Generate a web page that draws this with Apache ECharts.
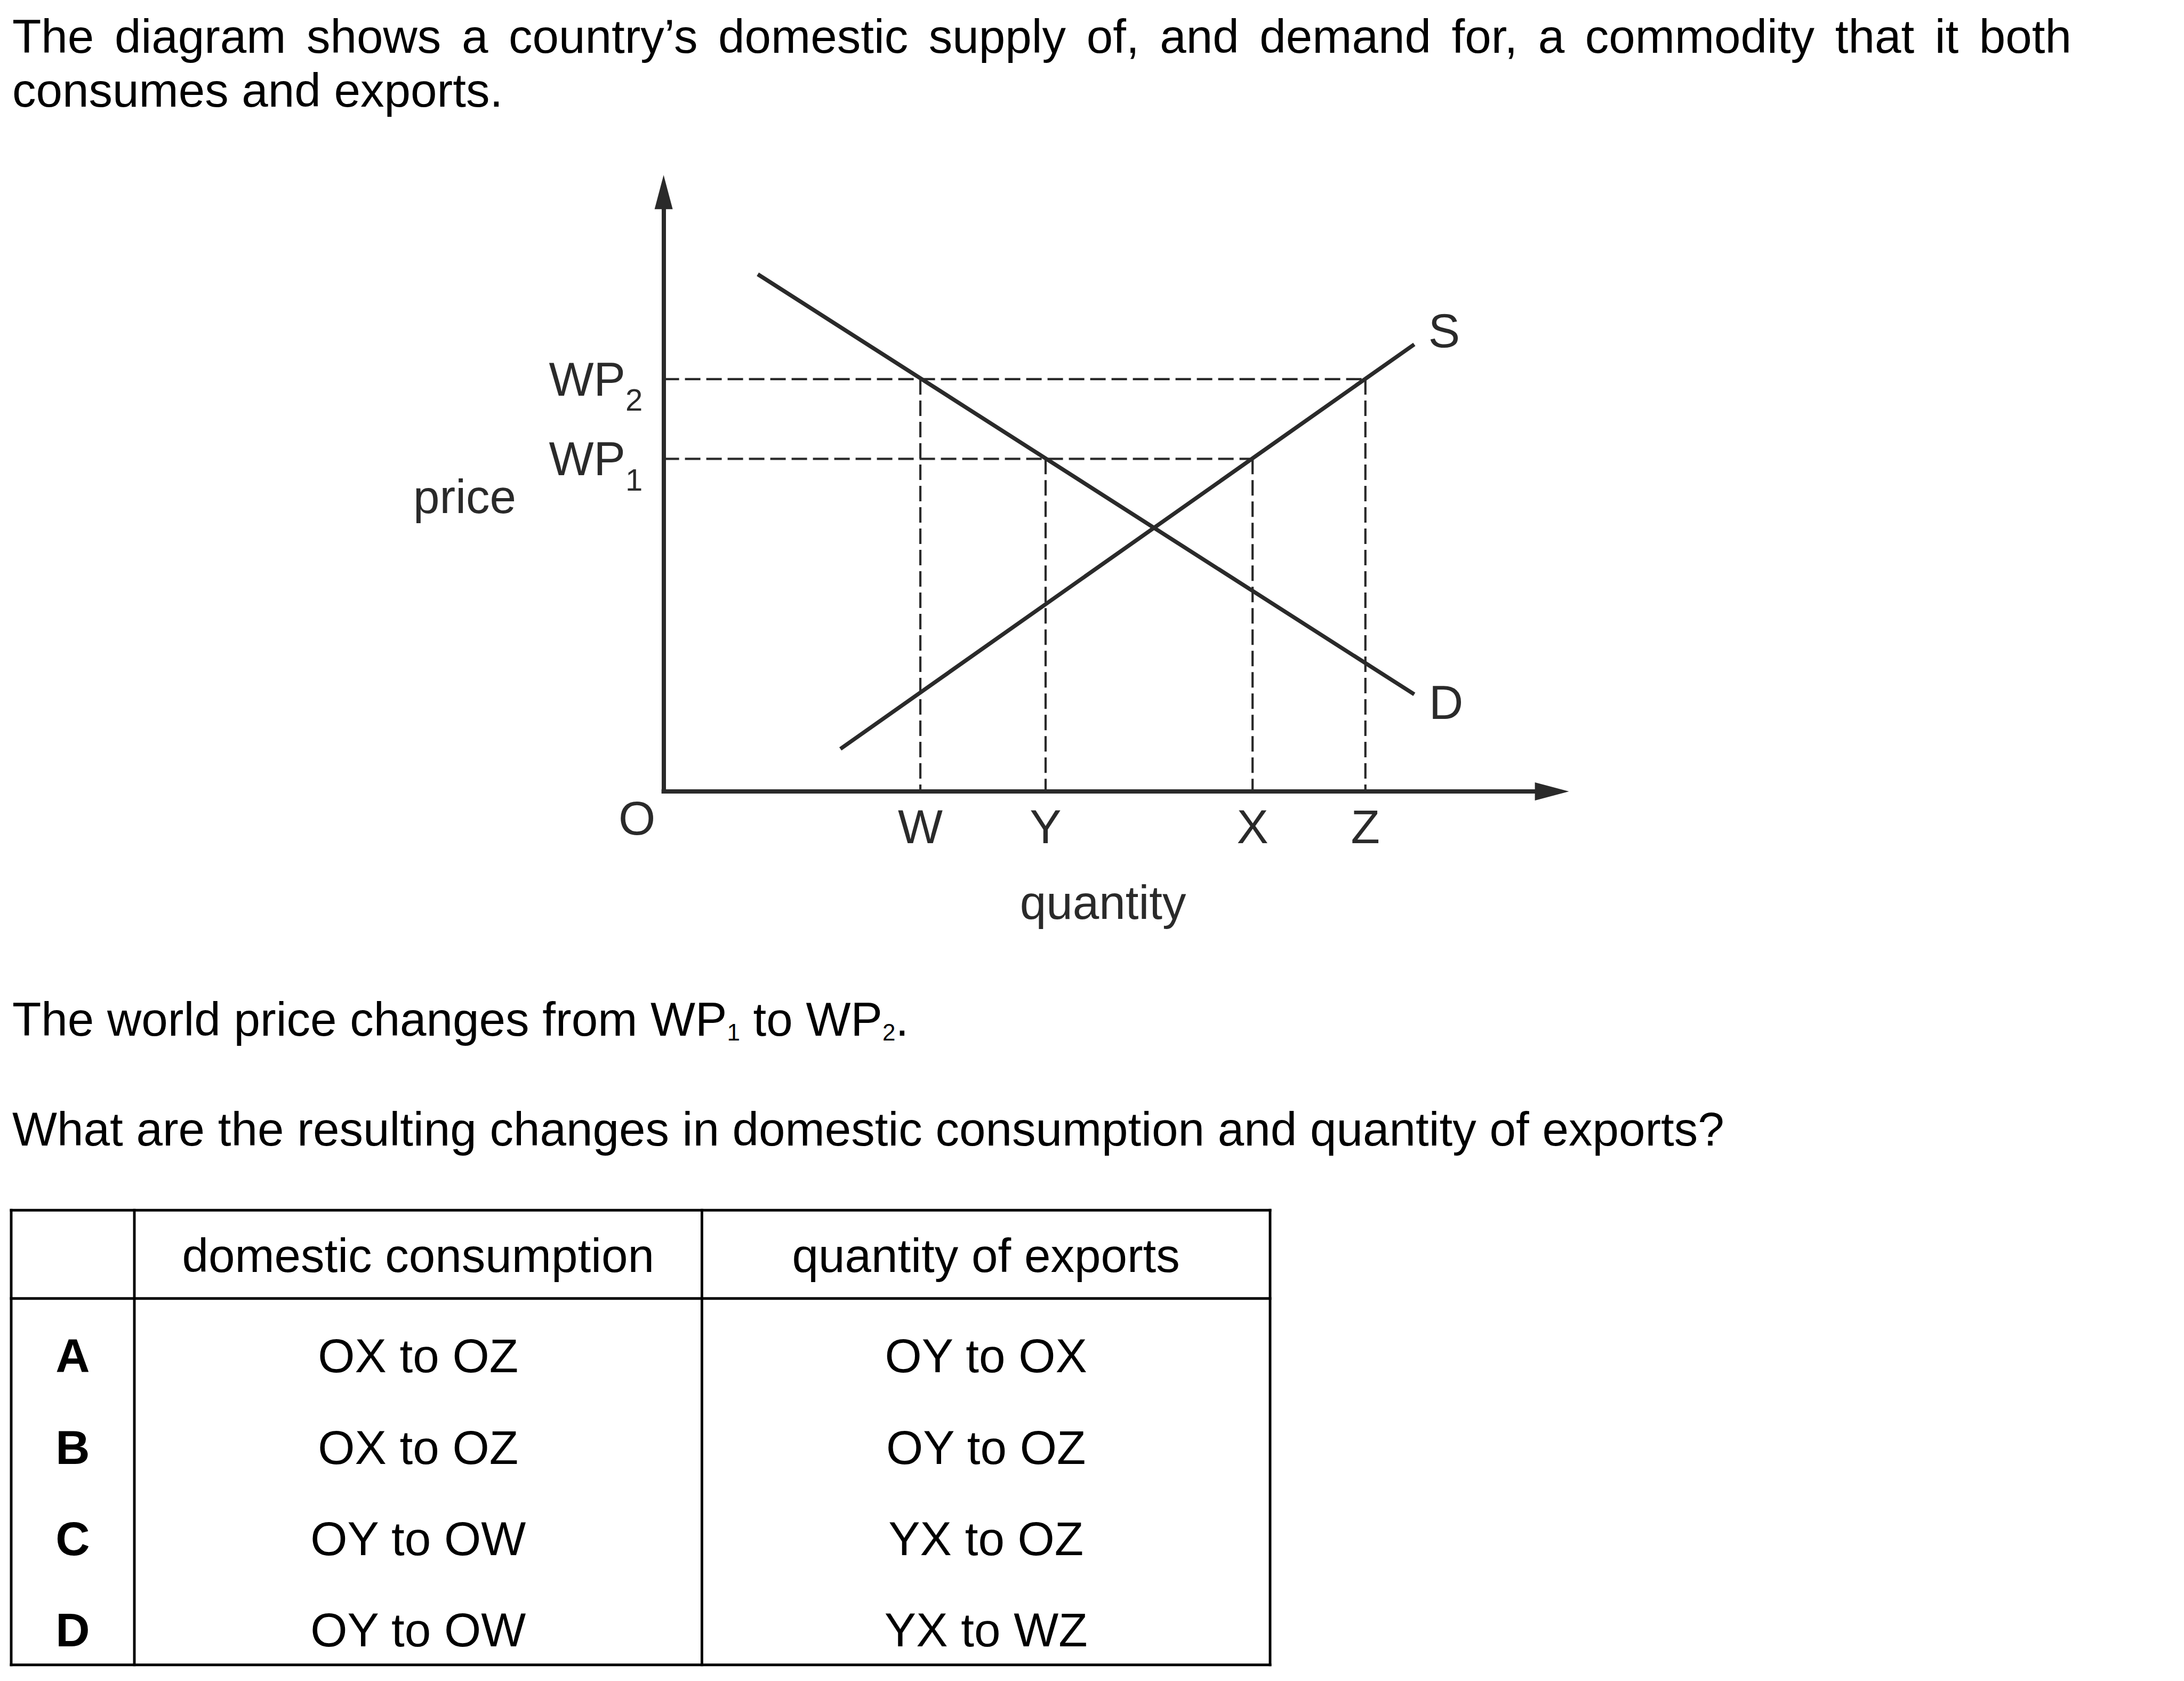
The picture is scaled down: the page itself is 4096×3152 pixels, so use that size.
<!DOCTYPE html>
<html><head><meta charset="utf-8">
<script src="https://cdn.jsdelivr.net/npm/echarts@6/dist/echarts.min.js"></script>
<style>html,body{margin:0;padding:0;background:#fff;}#chart{width:4096px;height:3152px;}</style>
</head><body><div id="chart"></div>
<script>
// ---------------- data ----------------
const introLines = ['The diagram shows a country\u2019s domestic supply of, and demand for, a commodity that it both', 'consumes and exports.'];
const questionLine = 'What are the resulting changes in domestic consumption and quantity of exports?';
const demandCurve = [[10.6, 86.3], [84.5, 16.2]];
const supplyCurve = [[19.9, 7.1], [84.5, 74.6]];
const quantityMarks = [28.9, 43.0, 66.3, 79.0];
const quantityNames = ['W', 'Y', 'X', 'Z'];
const priceMarks = [55.5, 68.8];
const priceNames = [['WP', '1'], ['WP', '2']];
const guideLinks = [1, 0, 0, 1]; // index into priceMarks for each quantity mark: W@WP2, Y@WP1, X@WP1, Z@WP2
const curveNames = ['D', 'S'];
const originName = 'O';
const axisNames = ['quantity', 'price'];
const tableHeader = ['', 'domestic consumption', 'quantity of exports'];
const optionLetters = ['A', 'B', 'C', 'D'];
const consumptionChanges = ['OX to OZ', 'OX to OZ', 'OY to OW', 'OY to OW'];
const exportChanges = ['OY to OX', 'OY to OZ', 'YX to OZ', 'YX to WZ'];

// ---------------- layout / style ----------------
const FONT = '"Liberation Sans", Arial, Helvetica, sans-serif';
const FS = 89;
const INK = '#000';
const LINE = '#2a2a2a';
const CENTRAL = 0.3465;
const AX = {x0: 1244.6, y0: 1484, x1: 2910.6, y1: 360.3};

const chart = echarts.init(document.getElementById('chart'), null, {renderer: 'svg', width: 4096, height: 3152});

const hGuide = (pi, qi) => [[0, priceMarks[pi]], [quantityMarks[qi], priceMarks[pi]]];
const vGuide = (qi) => [[quantityMarks[qi], priceMarks[guideLinks[qi]]], [quantityMarks[qi], 0]];
const guides = [hGuide(0, 2), hGuide(1, 3), vGuide(0), vGuide(1), vGuide(2), vGuide(3)];

const fmtQ = v => { const i = quantityMarks.indexOf(v); return i >= 0 ? quantityNames[i] : ''; };
const fmtP = v => { const i = priceMarks.indexOf(v); return i >= 0 ? '{m|' + priceNames[i][0] + '}{s|' + priceNames[i][1] + '}' : ''; };

const axisLineStyle = {color: LINE, width: 8, cap: 'square'};

const option = {
  backgroundColor: '#fff',
  animation: false,
  grid: {left: AX.x0, top: AX.y1, width: AX.x1 - AX.x0, height: AX.y0 - AX.y1, containLabel: false, outerBoundsMode: 'none'},
  xAxis: {
    type: 'value', min: 0, max: 100,
    name: axisNames[0], nameLocation: 'middle', nameGap: 163.5, nameMoveOverlap: false,
    nameTextStyle: {fontSize: FS, fontFamily: FONT, color: LINE, padding: [0, 18, 0, 0]},
    axisLine: {show: true, onZero: false, symbol: ['none', 'triangle'], symbolSize: [34, 64], lineStyle: axisLineStyle},
    axisTick: {show: false}, splitLine: {show: false},
    axisLabel: {show: true, customValues: quantityMarks, formatter: fmtQ, margin: 21.9, fontSize: FS, fontFamily: FONT, color: LINE}
  },
  yAxis: {
    type: 'value', min: 0, max: 100,
    axisLine: {show: true, onZero: false, symbol: ['none', 'triangle'], symbolSize: [34, 64], lineStyle: axisLineStyle},
    axisTick: {show: false}, splitLine: {show: false},
    axisLabel: {show: true, customValues: priceMarks, formatter: fmtP, margin: 39.4,
      rich: {
        m: {fontSize: FS, fontFamily: FONT, color: LINE, lineHeight: 89},
        s: {fontSize: 58, fontFamily: FONT, color: LINE, lineHeight: 11, verticalAlign: 'top', padding: [54.5, 0, 0, 0]}
      }}
  },
  series: [
    ...guides.map(g => ({type: 'line', data: g, symbol: 'none', showSymbol: false, silent: true, z: 2,
      lineStyle: {color: LINE, width: 4.2, type: [29, 11]}})),
    {type: 'line', name: curveNames[0], data: demandCurve, symbol: 'none', showSymbol: false, silent: true, z: 3, lineStyle: {color: LINE, width: 7.5}},
    {type: 'line', name: curveNames[1], data: supplyCurve, symbol: 'none', showSymbol: false, silent: true, z: 3, lineStyle: {color: LINE, width: 7.5}}
  ]
};
chart.setOption(option);

const px = p => chart.convertToPixel({gridIndex: 0}, p);

function T(x, base, text, o) {
  o = o || {};
  const fs = o.fontSize || FS;
  const al = o.align || 'left';
  const st = {text: text, fontSize: fs, fontFamily: FONT, fontWeight: o.fontWeight || 'normal', fill: o.fill || INK,
    align: al, verticalAlign: 'middle', textAlign: al, textVerticalAlign: 'middle'};
  if (o.rich) st.rich = o.rich;
  return {type: 'text', x: x, y: base - CENTRAL * fs, silent: true, style: st};
}
function L(x1, y1, x2, y2, w) {
  return {type: 'line', silent: true, shape: {x1: x1, y1: y1, x2: x2, y2: y2}, style: {stroke: INK, lineWidth: w || 4.9, lineCap: 'square'}};
}

const g = [];

// intro paragraph: first line justified
const ctx = document.createElement('canvas').getContext('2d');
ctx.font = FS + 'px "Liberation Sans"';
(function () {
  const words = introLines[0].split(' ');
  const widths = words.map(w => ctx.measureText(w).width);
  const total = widths.reduce((a, b) => a + b, 0);
  const x0 = 23, x1 = 3885;
  const gap = (x1 - x0 - total) / (words.length - 1);
  let x = x0;
  words.forEach((w, i) => { g.push(T(x, 99, w)); x += widths[i] + gap; });
})();
g.push(T(23, 199.8, introLines[1]));

// diagram extra labels
const o0 = px([0, 0]);
const yMid = px([0, 50]);
g.push(T(yMid[0] - 276.6, yMid[1] + 39.8, axisNames[1], {align: 'right', fill: LINE}));
g.push({type: 'text', x: o0[0] - 50, y: o0[1] + 49.8, silent: true,
  style: {text: originName, fontSize: FS, fontFamily: FONT, fill: LINE, align: 'center', verticalAlign: 'middle', textAlign: 'center', textVerticalAlign: 'middle'}});
const dEnd = px(demandCurve[demandCurve.length - 1]);
const sEnd = px(supplyCurve[supplyCurve.length - 1]);
g.push({type: 'text', x: dEnd[0] + 59.8, y: dEnd[1] + 15.3, silent: true,
  style: {text: curveNames[0], fontSize: FS, fontFamily: FONT, fill: LINE, align: 'center', verticalAlign: 'middle', textAlign: 'center', textVerticalAlign: 'middle'}});
g.push({type: 'text', x: sEnd[0] + 56, y: sEnd[1] - 26.2, silent: true,
  style: {text: curveNames[1], fontSize: FS, fontFamily: FONT, fill: LINE, align: 'center', verticalAlign: 'middle', textAlign: 'center', textVerticalAlign: 'middle'}});

// sentence with subscripts
const richBody = {
  m: {fontSize: FS, fontFamily: FONT, color: INK, lineHeight: 89},
  s: {fontSize: 44, fontFamily: FONT, color: INK, lineHeight: 11, verticalAlign: 'top', padding: [47.3, 0, 0, 0]}
};
g.push(T(23, 1942, '{m|The world price changes from WP}{s|1}{m| to WP}{s|2}{m|.}', {rich: richBody}));
g.push(T(23, 2148.3, questionLine));

// table
const TB = {l: 21, r: 2382, t: 2269.3, b: 3121.8, c1: 252, c2: 1316.4, h: 2434.8};
g.push(L(TB.l, TB.t, TB.r, TB.t));
g.push(L(TB.l, TB.b, TB.r, TB.b));
g.push(L(TB.l, TB.t, TB.l, TB.b));
g.push(L(TB.r, TB.t, TB.r, TB.b));
g.push(L(TB.c1, TB.t, TB.c1, TB.b));
g.push(L(TB.c2, TB.t, TB.c2, TB.b));
g.push(L(TB.l, TB.h, TB.r, TB.h));
const colCenters = [(TB.l + TB.c1) / 2, (TB.c1 + TB.c2) / 2, (TB.c2 + TB.r) / 2];
tableHeader.forEach((h, i) => { if (h) g.push(T(colCenters[i], 2384.6, h, {align: 'center'})); });
optionLetters.forEach((letter, i) => {
  const base = 2573.3 + 171.2 * i;
  g.push(T(colCenters[0], base, letter, {align: 'center', fontWeight: 'bold'}));
  g.push(T(colCenters[1], base, consumptionChanges[i], {align: 'center'}));
  g.push(T(colCenters[2], base, exportChanges[i], {align: 'center'}));
});

chart.setOption({graphic: {elements: g}});
</script></body></html>
